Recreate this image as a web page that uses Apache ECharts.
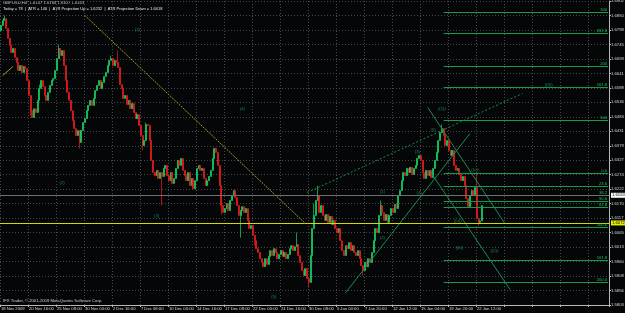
<!DOCTYPE html>
<html>
<head>
<meta charset="utf-8">
<title>GBPUSD,H4</title>
<script src="https://cdn.jsdelivr.net/npm/echarts@6.0.0/dist/echarts.min.js"></script>
<style>
html, body { margin: 0; padding: 0; background: #050608; }
#chart { width: 625px; height: 313px; }
</style>
</head>
<body>
<div id="chart"></div>
<script>
// time labels shown on the bottom axis, one every 16 H4 bars
var tickLabels = ['18 Nov 2009', '20 Nov 16:00', '25 Nov 08:00', '30 Nov 00:00', '2 Dec 16:00', '7 Dec 08:00',
    '10 Dec 00:00', '14 Dec 16:00', '17 Dec 08:00', '22 Dec 00:00', '24 Dec 16:00', '30 Dec 08:00',
    '5 Jan 04:00', '7 Jan 20:00', '12 Jan 12:00', '15 Jan 04:00', '19 Jan 20:00', '22 Jan 12:00'];
var barsPerLabel = 16;
var totalSlots = 348;   // bars + empty space on the right

// H4 closes
var firstOpen = 1.6795;
var closes = [
    1.6814, 1.6832, 1.6839, 1.6803, 1.6767, 1.6742, 1.6716, 1.6731, 1.6698, 1.6680,
    1.6651, 1.6669, 1.6644, 1.6666, 1.6658, 1.6615, 1.6561, 1.6506, 1.6481, 1.6513,
    1.6499, 1.6543, 1.6586, 1.6615, 1.6593, 1.6561, 1.6543, 1.6572, 1.6597, 1.6615,
    1.6622, 1.6651, 1.6694, 1.6731, 1.6705, 1.6723, 1.6669, 1.6615, 1.6572, 1.6543,
    1.6506, 1.6470, 1.6441, 1.6416, 1.6434, 1.6391, 1.6434, 1.6463, 1.6477, 1.6506,
    1.6525, 1.6543, 1.6525, 1.6550, 1.6579, 1.6597, 1.6615, 1.6586, 1.6608, 1.6629,
    1.6644, 1.6669, 1.6687, 1.6694, 1.6669, 1.6687, 1.6680, 1.6662, 1.6600, 1.6586,
    1.6550, 1.6561, 1.6528, 1.6543, 1.6513, 1.6532, 1.6499, 1.6477, 1.6492, 1.6452,
    1.6416, 1.6380, 1.6398, 1.6456, 1.6452, 1.6398, 1.6326, 1.6282, 1.6271, 1.6290,
    1.6261, 1.6282, 1.6268, 1.6297, 1.6308, 1.6271, 1.6253, 1.6282, 1.6243, 1.6261,
    1.6297, 1.6326, 1.6308, 1.6333, 1.6290, 1.6271, 1.6253, 1.6282, 1.6235, 1.6261,
    1.6224, 1.6253, 1.6297, 1.6308, 1.6290, 1.6297, 1.6261, 1.6235, 1.6253, 1.6268,
    1.6290, 1.6333, 1.6369, 1.6355, 1.6308, 1.6235, 1.6163, 1.6138, 1.6152, 1.6170,
    1.6145, 1.6181, 1.6199, 1.6217, 1.6192, 1.6163, 1.6127, 1.6145, 1.6159, 1.6138,
    1.6152, 1.6109, 1.6080, 1.6091, 1.6055, 1.6036, 1.6007, 1.5993, 1.5971, 1.5957,
    1.5942, 1.5971, 1.5950, 1.5979, 1.6000, 1.5982, 1.6007, 1.5993, 1.5971, 1.5986,
    1.6000, 1.5979, 1.5993, 1.5971, 1.5986, 1.6007, 1.6018, 1.6000, 1.6014, 1.6022,
    1.5982, 1.5957, 1.5928, 1.5910, 1.5935, 1.5899, 1.5885, 1.5982, 1.6080, 1.6127,
    1.6181, 1.6199, 1.6138, 1.6163, 1.6127, 1.6109, 1.6131, 1.6102, 1.6124, 1.6094,
    1.6109, 1.6080, 1.6065, 1.6080, 1.6036, 1.6000, 1.5982, 1.6018, 1.6007, 1.6029,
    1.6000, 1.6018, 1.5993, 1.5982, 1.6000, 1.5971, 1.5946, 1.5928, 1.5957, 1.5942,
    1.5971, 1.5957, 1.5993, 1.6036, 1.6080, 1.6065, 1.6127, 1.6163, 1.6138, 1.6109,
    1.6131, 1.6102, 1.6127, 1.6152, 1.6138, 1.6167, 1.6152, 1.6199, 1.6217, 1.6253,
    1.6282, 1.6271, 1.6297, 1.6282, 1.6301, 1.6275, 1.6297, 1.6308, 1.6333, 1.6344,
    1.6326, 1.6282, 1.6261, 1.6290, 1.6271, 1.6290, 1.6264, 1.6297, 1.6326, 1.6355,
    1.6398, 1.6427, 1.6441, 1.6416, 1.6380, 1.6398, 1.6362, 1.6344, 1.6362, 1.6308,
    1.6290, 1.6297, 1.6275, 1.6253, 1.6268, 1.6235, 1.6188, 1.6159, 1.6199, 1.6217,
    1.6199, 1.6228, 1.6116, 1.6102, 1.6107, 1.6163
];
// visible wicks beyond the bodies (bar index -> price)
var wickHighs = { 2: 1.6850, 22: 1.6600, 33: 1.6745, 63: 1.6705, 67: 1.6723, 83: 1.6463, 123: 1.6373,
    169: 1.6065, 179: 1.6170, 181: 1.6235, 217: 1.6181, 252: 1.6456, 272: 1.6279, 275: 1.6164 };
var wickLows = { 17: 1.6488, 45: 1.6369, 81: 1.6362, 92: 1.6163, 126: 1.6130, 137: 1.6047,
    145: 1.6018, 176: 1.5866, 207: 1.5910, 273: 1.6090, 275: 1.6107 };

// horizontal levels
var yellowLevel = 1.6072;
var bidLevel = 1.6163;
var fibStart = 253;
var fibPrices = [1.6861, 1.6785, 1.6666, 1.6590, 1.6470, 1.6279, 1.6232, 1.6199, 1.6177, 1.6156, 1.6083, 1.5964, 1.5884];
var fibLabels = ['300', '261.8', '200', '161.8', '100', '0.0', '23.6', '38.2', '50.0', '61.8', '100.0', '161.8', '200.0'];

// trend lines: [bar, price] -> [bar, price]
var yellowTrend = [[48, 1.6850], [174, 1.6098]];
var yellowShort = [[1, 1.6633], [7, 1.6666]];
var channelTop = [[175, 1.6210], [298, 1.6568]];
var supportUp = [[197, 1.5848], [268, 1.6423]];
var fallA = [[244, 1.6517], [288, 1.6098]];
var fallB = [[245, 1.6289], [291, 1.5859]];

// wave labels: [bar, price, text]
var waveLabels = [
    [35, 1.6246, '(2)'], [78, 1.6799, '(2)'], [89, 1.6127, '(3)'], [138, 1.6514, '(4)'], [156, 1.5834, '(5)'],
    [218, 1.6214, '(1)'], [218, 1.6047, '(2)'], [238, 1.6358, '(3)'], [239, 1.6210, '(4)'], [247, 1.6438, '(5)'],
    [252, 1.6514, '((1))'], [261, 1.6109, '((a))'], [262, 1.6011, '((b))'], [271, 1.6293, '((c))'],
    [282, 1.6000, '((2))'], [313, 1.6601, '((3))']
];

var FONT = '"Liberation Sans", Arial, sans-serif';
var FS = 4.2;
var tickStep = 1.6850 / 322;

var categories = [];
for (var i = 0; i < totalSlots; i++) {
    var k = i / barsPerLabel;
    categories.push(i % barsPerLabel === 0 && k < tickLabels.length ? tickLabels[k] : '');
}

var ohlc = [];
for (var i = 0; i < closes.length; i++) {
    var o = i === 0 ? firstOpen : closes[i - 1];
    var c = closes[i];
    var hi = wickHighs[i] !== undefined ? wickHighs[i] : Math.max(o, c);
    var lo = wickLows[i] !== undefined ? wickLows[i] : Math.min(o, c);
    ohlc.push([o, c, lo, hi]);
}

function seg(pts, color, type) {
    return [
        { coord: pts[0], lineStyle: { color: color, width: 1, type: type }, label: { show: false } },
        { coord: pts[1] }
    ];
}

var marks = [];
fibPrices.forEach(function (p, idx) {
    marks.push([
        { coord: [fibStart, p], name: fibLabels[idx],
          lineStyle: { color: '#169a4c', width: 1, type: 'solid' },
          label: { show: true, position: 'insideEndTop', formatter: '{b}', color: '#22c060',
                   fontSize: FS, fontFamily: FONT, distance: [1, 0.5] } },
        { coord: [totalSlots - 1, p] }
    ]);
});
marks.push(seg(yellowTrend, '#9c9a2c', [2, 1]));
marks.push(seg(yellowShort, '#9c9a2c', 'solid'));
marks.push(seg(channelTop, '#178a4a', [2, 2]));
marks.push(seg(supportUp, '#1a8c56', 'solid'));
marks.push(seg(fallA, '#1a8c56', 'solid'));
marks.push(seg(fallB, '#1a8c56', 'solid'));
marks.push({ yAxis: bidLevel, lineStyle: { color: '#707070', width: 1, type: 'solid' },
    label: { show: true, position: 'end', formatter: bidLevel.toFixed(4), backgroundColor: '#ffffff',
             color: '#000', fontSize: FS, fontFamily: FONT, padding: [1, 1, 0, 1], distance: 2 } });
marks.push({ yAxis: yellowLevel, lineStyle: { color: '#d6d600', width: 1, type: 'solid' },
    label: { show: true, position: 'end', formatter: yellowLevel.toFixed(4), backgroundColor: '#ecec00',
             color: '#000', fontSize: FS, fontFamily: FONT, padding: [1, 1, 0, 1], distance: 2 } });

var myChart = echarts.init(document.getElementById('chart'));
var option = {
    backgroundColor: '#050608',
    animation: false,
    grid: { left: 0, right: 16, top: 1, bottom: 8, containLabel: false, outerBoundsMode: 'none' },
    xAxis: {
        type: 'category',
        data: categories,
        boundaryGap: true,
        axisLine: { show: true, lineStyle: { color: '#b8b8b8', width: 1 } },
        axisTick: { show: true, interval: barsPerLabel - 1, length: 2, lineStyle: { color: '#b8b8b8' } },
        axisLabel: { interval: barsPerLabel - 1, align: 'left', color: '#d8d8d8', fontSize: FS,
                     fontFamily: FONT, margin: 2 },
        splitLine: { show: true, interval: barsPerLabel - 1, lineStyle: { color: '#474747', width: 1, type: [1, 2] } }
    },
    yAxis: {
        type: 'value',
        position: 'right',
        min: 302 * tickStep,
        max: 323 * tickStep,
        interval: tickStep,
        axisLine: { show: true, lineStyle: { color: '#b8b8b8', width: 1 } },
        axisTick: { show: true, length: 2, lineStyle: { color: '#b8b8b8' } },
        axisLabel: { color: '#d8d8d8', fontSize: FS, fontFamily: FONT, margin: 2, showMaxLabel: false,
                     formatter: function (v) { return v.toFixed(4); } },
        splitLine: { show: true, lineStyle: { color: '#474747', width: 1, type: [1, 2] } }
    },
    graphic: [
        { type: 'text', left: 3, top: 1, silent: true,
          style: { text: 'GBPUSD,H4  1.6107 1.6164 1.6107 1.6163', fill: '#c8c8c8', font: FS + 'px ' + FONT } },
        { type: 'text', left: 3, top: 7, silent: true,
          style: { text: 'Today = 78  |  ATR = 146  |  ATR Projection Up = 1.6232  |  ATR Projection Down = 1.6018',
                   fill: '#ececec', font: '4px ' + FONT } },
        { type: 'text', left: 3, top: 299, silent: true,
          style: { text: 'IFX Trader, \u00a9 2001-2009 MetaQuotes Software Corp.', fill: '#d0d0d0', font: FS + 'px ' + FONT } }
    ],
    series: [
        {
            name: 'GBPUSD,H4',
            type: 'candlestick',
            data: ohlc,
            barWidth: 1.5,
            itemStyle: { color: '#12d866', color0: '#f01c1c', borderColor: '#12d866', borderColor0: '#f01c1c', borderWidth: 0.7 },
            emphasis: { disabled: true },
            markLine: { silent: true, symbol: 'none', animation: false, data: marks }
        },
        {
            type: 'scatter',
            symbolSize: 0,
            silent: true,
            data: waveLabels.map(function (w) { return { value: [w[0], w[1]], name: w[2] }; }),
            label: { show: true, position: 'inside', formatter: '{b}', color: '#1fa77a', fontSize: FS, fontFamily: FONT }
        }
    ]
};
if (option && typeof option === "object") {
    myChart.setOption(option, true);
}
</script>
</body>
</html>
